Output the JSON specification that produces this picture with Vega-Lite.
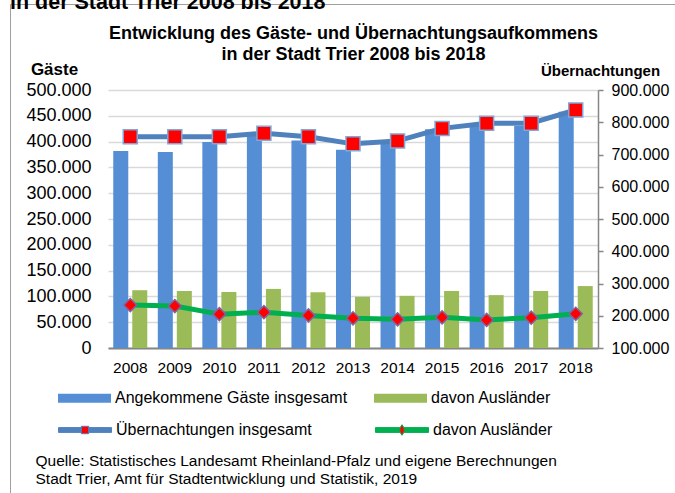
{
  "$schema": "https://vega.github.io/schema/vega-lite/v6.json",
  "autosize": "none",
  "width": 490,
  "height": 258,
  "padding": {"left": 108, "top": 90, "right": 77, "bottom": 145},
  "background": "white",
  "config": {
    "locale": {"number": {"decimal": ",", "thousands": ".", "grouping": [3], "currency": ["", " €"]}},
    "font": "Liberation Sans",
    "view": {"stroke": null},
    "axis": {"labelFont": "Liberation Sans", "titleFont": "Liberation Sans", "labelColor": "#000000", "titleColor": "#000000"},
    "legend": {"labelFont": "Liberation Sans", "labelColor": "#000000"}
  },
  "title": {
    "text": "in der Stadt Trier 2008 bis 2018",
    "anchor": "start",
    "frame": "group",
    "dx": -98,
    "dy": 10,
    "offset": 0,
    "fontSize": 21.5,
    "fontWeight": "bold",
    "font": "Liberation Sans",
    "color": "#000000"
  },
  "data": {
    "values": [
      {"Jahr": "2008", "Art": "Gäste", "Reihe": "Angekommene Gäste insgesamt", "Wert": 382000},
      {"Jahr": "2009", "Art": "Gäste", "Reihe": "Angekommene Gäste insgesamt", "Wert": 380000},
      {"Jahr": "2010", "Art": "Gäste", "Reihe": "Angekommene Gäste insgesamt", "Wert": 399000},
      {"Jahr": "2011", "Art": "Gäste", "Reihe": "Angekommene Gäste insgesamt", "Wert": 415000},
      {"Jahr": "2012", "Art": "Gäste", "Reihe": "Angekommene Gäste insgesamt", "Wert": 402000},
      {"Jahr": "2013", "Art": "Gäste", "Reihe": "Angekommene Gäste insgesamt", "Wert": 384000},
      {"Jahr": "2014", "Art": "Gäste", "Reihe": "Angekommene Gäste insgesamt", "Wert": 399000},
      {"Jahr": "2015", "Art": "Gäste", "Reihe": "Angekommene Gäste insgesamt", "Wert": 424000},
      {"Jahr": "2016", "Art": "Gäste", "Reihe": "Angekommene Gäste insgesamt", "Wert": 432000},
      {"Jahr": "2017", "Art": "Gäste", "Reihe": "Angekommene Gäste insgesamt", "Wert": 430000},
      {"Jahr": "2018", "Art": "Gäste", "Reihe": "Angekommene Gäste insgesamt", "Wert": 458000},
      {"Jahr": "2008", "Art": "Gäste", "Reihe": "davon Ausländer", "Wert": 112000},
      {"Jahr": "2009", "Art": "Gäste", "Reihe": "davon Ausländer", "Wert": 110500},
      {"Jahr": "2010", "Art": "Gäste", "Reihe": "davon Ausländer", "Wert": 108500},
      {"Jahr": "2011", "Art": "Gäste", "Reihe": "davon Ausländer", "Wert": 114500},
      {"Jahr": "2012", "Art": "Gäste", "Reihe": "davon Ausländer", "Wert": 108000},
      {"Jahr": "2013", "Art": "Gäste", "Reihe": "davon Ausländer", "Wert": 99500},
      {"Jahr": "2014", "Art": "Gäste", "Reihe": "davon Ausländer", "Wert": 101000},
      {"Jahr": "2015", "Art": "Gäste", "Reihe": "davon Ausländer", "Wert": 110500},
      {"Jahr": "2016", "Art": "Gäste", "Reihe": "davon Ausländer", "Wert": 102500},
      {"Jahr": "2017", "Art": "Gäste", "Reihe": "davon Ausländer", "Wert": 110500},
      {"Jahr": "2018", "Art": "Gäste", "Reihe": "davon Ausländer", "Wert": 120000},
      {"Jahr": "2008", "Art": "Übernachtungen", "Reihe": "Übernachtungen insgesamt", "Wert": 755000},
      {"Jahr": "2009", "Art": "Übernachtungen", "Reihe": "Übernachtungen insgesamt", "Wert": 755000},
      {"Jahr": "2010", "Art": "Übernachtungen", "Reihe": "Übernachtungen insgesamt", "Wert": 755000},
      {"Jahr": "2011", "Art": "Übernachtungen", "Reihe": "Übernachtungen insgesamt", "Wert": 766000},
      {"Jahr": "2012", "Art": "Übernachtungen", "Reihe": "Übernachtungen insgesamt", "Wert": 755000},
      {"Jahr": "2013", "Art": "Übernachtungen", "Reihe": "Übernachtungen insgesamt", "Wert": 733000},
      {"Jahr": "2014", "Art": "Übernachtungen", "Reihe": "Übernachtungen insgesamt", "Wert": 742000},
      {"Jahr": "2015", "Art": "Übernachtungen", "Reihe": "Übernachtungen insgesamt", "Wert": 781000},
      {"Jahr": "2016", "Art": "Übernachtungen", "Reihe": "Übernachtungen insgesamt", "Wert": 797000},
      {"Jahr": "2017", "Art": "Übernachtungen", "Reihe": "Übernachtungen insgesamt", "Wert": 797000},
      {"Jahr": "2018", "Art": "Übernachtungen", "Reihe": "Übernachtungen insgesamt", "Wert": 838000},
      {"Jahr": "2008", "Art": "Übernachtungen", "Reihe": "davon Ausländer", "Wert": 233000},
      {"Jahr": "2009", "Art": "Übernachtungen", "Reihe": "davon Ausländer", "Wert": 230000},
      {"Jahr": "2010", "Art": "Übernachtungen", "Reihe": "davon Ausländer", "Wert": 205000},
      {"Jahr": "2011", "Art": "Übernachtungen", "Reihe": "davon Ausländer", "Wert": 211000},
      {"Jahr": "2012", "Art": "Übernachtungen", "Reihe": "davon Ausländer", "Wert": 201000},
      {"Jahr": "2013", "Art": "Übernachtungen", "Reihe": "davon Ausländer", "Wert": 192000},
      {"Jahr": "2014", "Art": "Übernachtungen", "Reihe": "davon Ausländer", "Wert": 189000},
      {"Jahr": "2015", "Art": "Übernachtungen", "Reihe": "davon Ausländer", "Wert": 195000},
      {"Jahr": "2016", "Art": "Übernachtungen", "Reihe": "davon Ausländer", "Wert": 187000},
      {"Jahr": "2017", "Art": "Übernachtungen", "Reihe": "davon Ausländer", "Wert": 194000},
      {"Jahr": "2018", "Art": "Übernachtungen", "Reihe": "davon Ausländer", "Wert": 206000}
    ]
  },
  "layer": [
    {
      "transform": [{"filter": "datum.Art === 'Gäste'"}],
      "mark": {"type": "bar"},
      "encoding": {
        "x": {
          "field": "Jahr", "type": "nominal",
          "scale": {"paddingInner": 0.236, "paddingOuter": 0.118},
          "axis": {
            "orient": "bottom", "labelAngle": 0, "labelFontSize": 15.5, "labelPadding": 12,
            "ticks": false, "domainColor": "#868686", "domainWidth": 2, "grid": false,
            "title": ["Quelle: Statistisches  Landesamt Rheinland-Pfalz und eigene Berechnungen", "Stadt Trier, Amt für Stadtentwicklung und Statistik, 2019"],
            "titleX": -73, "titleY": 117.5, "titleAlign": "left", "titleAnchor": "start", "titleBaseline": "alphabetic",
            "titleFontSize": 15.5, "titleFontWeight": "normal", "titleLineHeight": 17.8
          }
        },
        "xOffset": {
          "field": "Reihe", "type": "nominal",
          "sort": ["Angekommene Gäste insgesamt", "davon Ausländer"],
          "scale": {"paddingInner": 0.21, "paddingOuter": 0}
        },
        "y": {
          "field": "Wert", "type": "quantitative",
          "scale": {"domain": [0, 500000]},
          "axis": {
            "orient": "left",
            "values": [0, 50000, 100000, 150000, 200000, 250000, 300000, 350000, 400000, 450000, 500000],
            "format": ",d", "labelFontSize": 18, "ticks": false, "tickSize": 0, "labelPadding": 17,
            "domain": false, "grid": true, "gridColor": "#D9D9D9", "gridWidth": 1.5,
            "title": "Gäste", "titleAngle": 0, "titleX": -54, "titleY": -16, "titleAlign": "center",
            "titleBaseline": "alphabetic", "titleFontSize": 17, "titleFontWeight": "bold"
          }
        },
        "color": {
          "field": "Reihe", "type": "nominal",
          "scale": {"domain": ["Angekommene Gäste insgesamt", "davon Ausländer"], "range": ["#558ED5", "#9BBB59"]},
          "legend": {
            "orient": "none", "legendX": -50, "legendY": 281.5, "direction": "horizontal", "columns": 2,
            "columnPadding": 26, "title": null, "symbolType": "M-1,-0.17H1V0.17H-1Z", "symbolSize": 2809,
            "symbolStrokeWidth": 0, "labelFontSize": 16, "labelLimit": 400, "labelOffset": 4
          }
        },
        "strokeDash": {
          "datum": "Rahmen",
          "scale": {"range": [[1, 0]]},
          "legend": {
            "orient": "none", "legendX": -98, "legendY": -86, "padding": 345, "strokeColor": "#A0A0A0",
            "title": null, "symbolOpacity": 0, "labelExpr": "''", "symbolSize": 1,
            "encode": {"legend": {"update": {"strokeWidth": {"value": 2}}}}
          }
        }
      }
    },
    {
      "transform": [{"filter": "datum.Art === 'Übernachtungen'"}],
      "encoding": {
        "x": {
          "field": "Jahr", "type": "nominal",
          "axis": {
            "orient": "top", "labels": false, "ticks": false, "domain": false, "grid": false,
            "title": ["Entwicklung des Gäste- und Übernachtungsaufkommens", "in der Stadt Trier 2008 bis 2018"],
            "titleFontSize": 18, "titleFontWeight": "bold", "titleBaseline": "alphabetic",
            "titleX": 245, "titleY": -52, "titleAlign": "center", "titleLineHeight": 21.6
          }
        },
        "y": {
          "field": "Wert", "type": "quantitative",
          "scale": {"domain": [100000, 900000]},
          "axis": {
            "orient": "right",
            "values": [100000, 200000, 300000, 400000, 500000, 600000, 700000, 800000, 900000],
            "format": ",d", "labelFontSize": 16, "tickSize": 5, "tickColor": "#868686", "tickWidth": 1.5,
            "domainColor": "#868686", "domainWidth": 1.5, "labelPadding": 8, "grid": false,
            "title": "Übernachtungen", "titleAngle": 0, "titleX": 2, "titleY": -15, "titleAlign": "center",
            "titleBaseline": "alphabetic", "titleFontSize": 15, "titleFontWeight": "bold"
          }
        }
      },
      "layer": [
        {
          "mark": {"type": "line", "strokeWidth": 5, "strokeJoin": "round", "strokeCap": "round"},
          "encoding": {
            "stroke": {
              "field": "Reihe", "type": "nominal",
              "scale": {"domain": ["Übernachtungen insgesamt", "davon Ausländer"], "range": ["#4F81BD", "#00B050"]},
              "legend": {
                "orient": "none", "legendX": -50, "legendY": 313, "direction": "horizontal", "columns": 2,
                "columnPadding": 61, "title": null, "symbolSize": 2809, "symbolStrokeWidth": 1,
                "labelFontSize": 16, "labelLimit": 400, "labelOffset": 4,
                "encode": {
                  "symbols": {
                    "update": {
                      "shape": {"signal": "datum.value === 'Übernachtungen insgesamt' ? 'M-1,-0.09H-0.14V0.09H-1Z M0.14,-0.09H1V0.09H0.14Z M-0.14,-0.14H0.14V0.14H-0.14Z' : 'M-1,-0.09H-0.08V0.09H-1Z M0.08,-0.09H1V0.09H0.08Z M0,-0.2L0.13,0L0,0.2L-0.13,0Z'"},
                      "fill": {"signal": "datum.value === 'Übernachtungen insgesamt' ? {gradient: 'linear', stops: [{offset: 0, color: '#4F81BD'}, {offset: 0.43, color: '#4F81BD'}, {offset: 0.43, color: '#FF0000'}, {offset: 0.57, color: '#FF0000'}, {offset: 0.57, color: '#4F81BD'}, {offset: 1, color: '#4F81BD'}]} : {gradient: 'linear', stops: [{offset: 0, color: '#00B050'}, {offset: 0.44, color: '#00B050'}, {offset: 0.44, color: '#FF0000'}, {offset: 0.56, color: '#FF0000'}, {offset: 0.56, color: '#00B050'}, {offset: 1, color: '#00B050'}]}"},
                      "stroke": {"signal": "datum.value === 'Übernachtungen insgesamt' ? {gradient: 'linear', stops: [{offset: 0, color: '#4F81BD'}, {offset: 0.43, color: '#4F81BD'}, {offset: 0.43, color: '#8EB4E3'}, {offset: 0.57, color: '#8EB4E3'}, {offset: 0.57, color: '#4F81BD'}, {offset: 1, color: '#4F81BD'}]} : {gradient: 'linear', stops: [{offset: 0, color: '#00B050'}, {offset: 0.44, color: '#00B050'}, {offset: 0.44, color: '#7030A0'}, {offset: 0.56, color: '#7030A0'}, {offset: 0.56, color: '#00B050'}, {offset: 1, color: '#00B050'}]}"},
                      "opacity": {"value": 1}
                    }
                  }
                }
              }
            }
          }
        },
        {
          "transform": [{"filter": "datum.Reihe === 'Übernachtungen insgesamt'"}],
          "mark": {"type": "point", "shape": "square", "filled": true, "fill": "#FF0000", "stroke": "#7FA7D8", "strokeWidth": 1.5, "size": 196, "opacity": 1}
        },
        {
          "transform": [{"filter": "datum.Reihe === 'davon Ausländer'"}],
          "mark": {"type": "point", "shape": "diamond", "filled": true, "fill": "#FF0000", "stroke": "#8064A2", "strokeWidth": 1.5, "size": 170, "opacity": 1}
        }
      ]
    }
  ],
  "resolve": {"scale": {"y": "independent"}, "axis": {"x": "independent", "y": "independent"}}
}
